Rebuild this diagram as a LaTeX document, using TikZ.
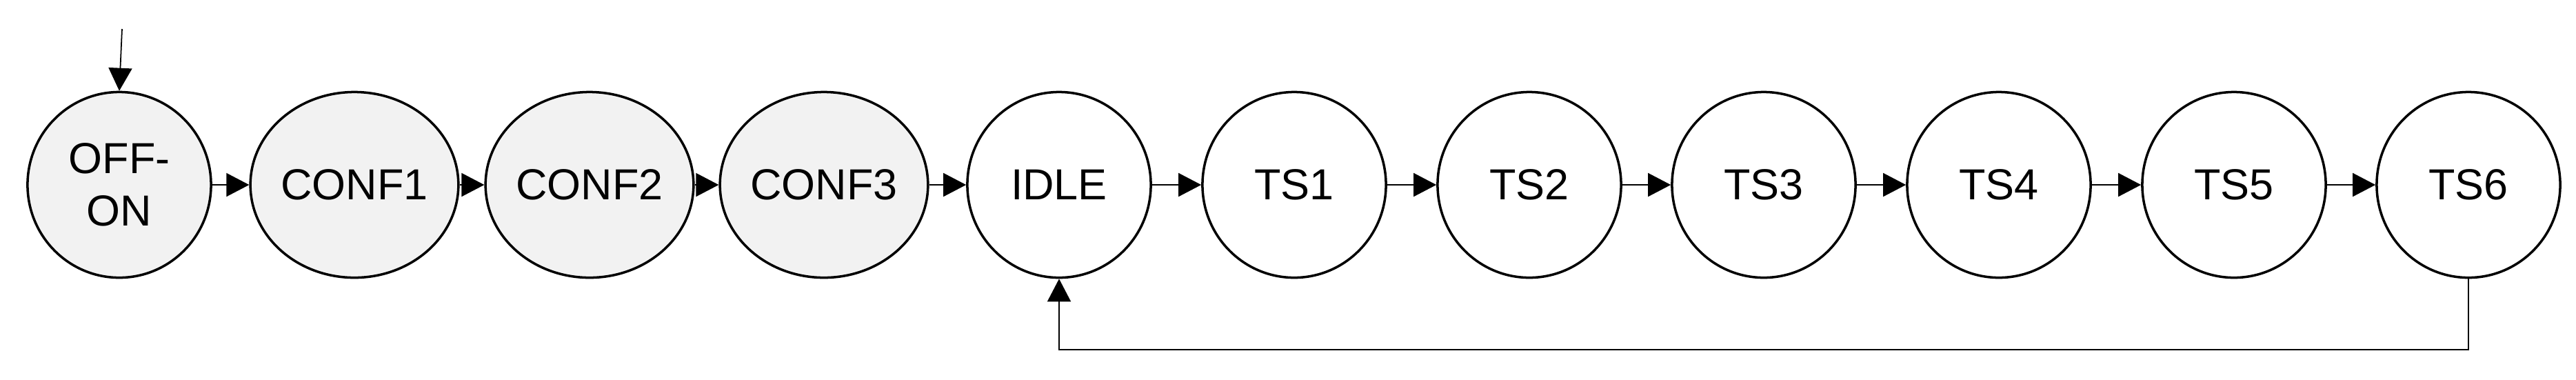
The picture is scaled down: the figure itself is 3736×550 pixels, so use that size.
\documentclass[tikz,border=0pt]{standalone}
\usepackage{fontspec}
\setmainfont{Liberation Sans}
\usetikzlibrary{shapes.geometric,arrows.meta}
\definecolor{statefill}{HTML}{F2F2F2}
\tikzset{
  state/.style={ellipse,draw,line width=1pt,minimum width=2.66cm,minimum height=2.69cm,inner sep=0pt,font=\fontsize{17.9}{21.6}\selectfont,align=center},
  conf/.style={state,fill=statefill},
  plain/.style={state,fill=white},
  conn/.style={line width=0.5pt,-{Triangle[length=0.33cm,width=0.34cm]}}
}
\begin{document}
\begin{tikzpicture}[x=0.01cm,y=-0.01cm]
\useasboundingbox (0,0) rectangle (3736,550);
\node[conf] (s0) at (173,268) {OFF-\\ON};
\node[conf] (s1) at (514,268) {CONF1};
\node[conf] (s2) at (855,268) {CONF2};
\node[conf] (s3) at (1195,268) {CONF3};
\node[plain] (s4) at (1536,268) {IDLE};
\node[plain] (s5) at (1877,268) {TS1};
\node[plain] (s6) at (2218,268) {TS2};
\node[plain] (s7) at (2558,268) {TS3};
\node[plain] (s8) at (2899,268) {TS4};
\node[plain] (s9) at (3240,268) {TS5};
\node[plain] (s10) at (3580,268) {TS6};
\coordinate (init) at (177,42);
\coordinate (loopy) at (0,507);
\draw[conn] (init) -- (s0.north);
\foreach \a/\b in {s0/s1,s1/s2,s2/s3,s3/s4,s4/s5,s5/s6,s6/s7,s7/s8,s8/s9,s9/s10}
  \draw[conn] (\a.east) -- (\b.west);
\draw[conn] (s10.south) |- (s4.south |- loopy) -- (s4.south);
\end{tikzpicture}
\end{document}
